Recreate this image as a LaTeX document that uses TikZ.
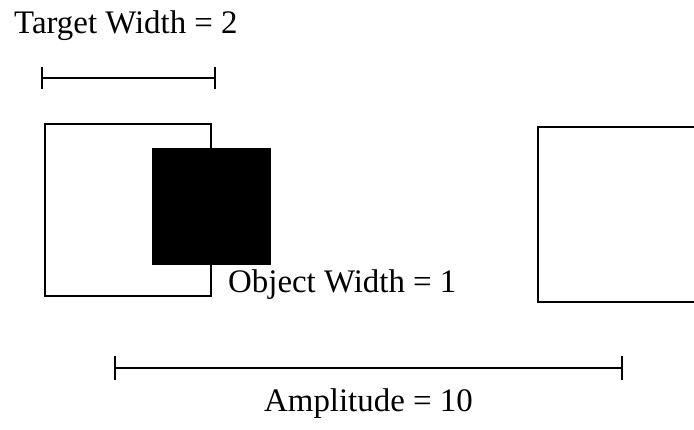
\documentclass[tikz,border=0pt]{standalone}
\usepackage{fontspec}
\setmainfont{Liberation Serif}
\begin{document}
\begin{tikzpicture}[x=1bp,y=-1bp,
  lbl/.style={font=\fontsize{33}{36}\selectfont, inner sep=0pt, anchor=base west},
  frame/.style={draw, line width=2.5bp, inner sep=0pt, rectangle},
  bar/.style={line width=2.5bp},
  tick/.style={line width=2.5bp}]
\useasboundingbox (0,0) rectangle (694,429);
% target width
\node[lbl] (tw) at (14,33) {Target Width = 2};
\coordinate (ta) at (42,78);
\coordinate (tb) at (215,78);
\draw[bar] (ta) -- (tb);
\draw[tick] ([yshift=-11bp]ta) -- ([yshift=11bp]ta);
\draw[tick] ([yshift=-11bp]tb) -- ([yshift=11bp]tb);
% left target box
\node[frame, minimum width=166bp, minimum height=172bp] (lbox) at (128,210) {};
% object
\node[fill=black, inner sep=0pt, minimum width=119bp, minimum height=117bp] (obj) at (211.5,206.5) {};
\node[lbl] (ow) at (228,292) {Object Width = 1};
% right target box (partly outside)
\coordinate (rt) at (694,127);
\coordinate (rb) at (694,302);
\draw[bar] (rt) -- (538,127) -- (538,302) -- (rb);
% amplitude
\coordinate (aa) at (115,368);
\coordinate (ab) at (622,368);
\draw[bar] (aa) -- (ab);
\draw[tick] ([yshift=-12bp]aa) -- ([yshift=12bp]aa);
\draw[tick] ([yshift=-12bp]ab) -- ([yshift=12bp]ab);
\node[lbl] (am) at (264,411) {Amplitude = 10};
\end{tikzpicture}
\end{document}
